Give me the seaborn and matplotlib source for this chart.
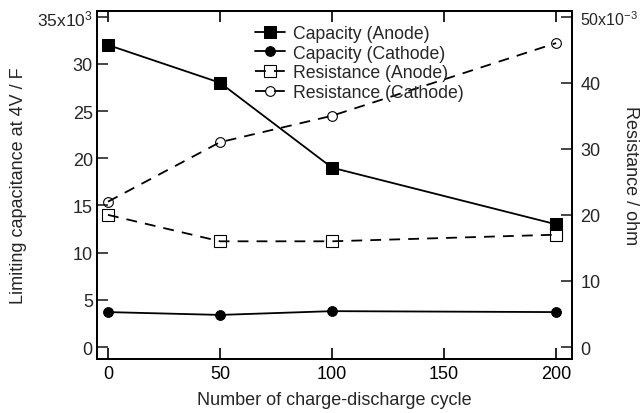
import matplotlib
matplotlib.use("Agg")
import matplotlib.pyplot as plt
import seaborn as sns
import pandas as pd
from matplotlib.ticker import FixedLocator, FixedFormatter

cycles = [0, 50, 100, 200]
cap_anode = [32.0, 28.0, 19.0, 13.0]          # x10^3 F
cap_cathode = [3.7, 3.4, 3.8, 3.7]            # x10^3 F
res_anode = [20.0, 16.0, 16.0, 17.0]          # x10^-3 ohm
res_cathode = [22.0, 31.0, 35.0, 46.0]        # x10^-3 ohm

left_ticks = [0, 5, 10, 15, 20, 25, 30, 35]
left_labels = ["0", "5", "10", "15", "20", "25", "30", "35x10$^3$"]
right_ticks = [0, 10, 20, 30, 40, 50]
right_labels = ["0", "10", "20", "30", "40", "50x10$^{-3}$"]
x_ticks = [0, 50, 100, 150, 200]

sns.set_style("ticks")
plt.rcParams["font.family"] = ["Liberation Sans", "DejaVu Sans"]
plt.rcParams["mathtext.fontset"] = "custom"
plt.rcParams["mathtext.rm"] = "Liberation Sans"
plt.rcParams["mathtext.it"] = "Liberation Sans"
FS = 13
plt.rcParams["font.size"] = FS

df = pd.DataFrame({"cycle": cycles, "cap_a": cap_anode, "cap_c": cap_cathode,
                   "res_a": res_anode, "res_c": res_cathode})

fig = plt.figure(figsize=(6.4, 4.14), dpi=100)
ax = fig.add_axes([97/640, 1-360/414, (572-97)/640, (360-12)/414])
ax2 = ax.twinx()

dash = (0, (6, 4.5))
sns.lineplot(data=df, x="cycle", y="cap_a", ax=ax, color="black", lw=1.3,
             marker="s", markersize=8.5, markeredgecolor="black", label="Capacity (Anode)", legend=False)
sns.lineplot(data=df, x="cycle", y="cap_c", ax=ax, color="black", lw=1.3,
             marker="o", markersize=7, markeredgecolor="black", label="Capacity (Cathode)", legend=False)
sns.lineplot(data=df, x="cycle", y="res_a", ax=ax2, color="black", lw=1.3, linestyle=dash,
             marker="s", markersize=8, markerfacecolor="none", markeredgecolor="black",
             markeredgewidth=0.8, label="Resistance (Anode)", legend=False)
sns.lineplot(data=df, x="cycle", y="res_c", ax=ax2, color="black", lw=1.3, linestyle=dash,
             marker="o", markersize=7, markerfacecolor="none", markeredgecolor="black",
             markeredgewidth=0.8, label="Resistance (Cathode)", legend=False)

ax.set_xlim(-4.9, 207.1)
ax.set_ylim(-1.27, 35.6)
ax2.set_ylim(-1.27 * 50 / 35, 35.6 * 50 / 35)

ax.xaxis.set_major_locator(FixedLocator(x_ticks))
ax.set_xticklabels([str(v) for v in x_ticks])
ax.yaxis.set_major_locator(FixedLocator(left_ticks))
ax.yaxis.set_major_formatter(FixedFormatter(left_labels))
ax2.yaxis.set_major_locator(FixedLocator(right_ticks))
ax2.yaxis.set_major_formatter(FixedFormatter(right_labels))

ax.tick_params(axis="x", direction="in", length=8, width=1.2, top=True, labelsize=FS, pad=4.5, colors="black")
ax.tick_params(axis="y", direction="in", length=8, width=1.2, labelsize=FS, pad=3)
ax2.tick_params(axis="y", direction="in", length=8, width=1.2, labelsize=FS, pad=6)

fig.canvas.draw()
ax.get_yticklabels()[-1].set_fontsize(12.5)
ax2.get_yticklabels()[-1].set_fontsize(11.5)

for a in (ax, ax2):
    for s in a.spines.values():
        s.set_linewidth(1.3)
        s.set_color("black")

ax.set_xlabel("Number of charge-discharge cycle", fontsize=FS, labelpad=6)
ax.set_ylabel("Limiting capacitance at 4V / F", fontsize=FS)
ax.yaxis.set_label_coords(-70/475, 0.5)
ax2.set_ylabel("Resistance / ohm", fontsize=FS, rotation=270, va="bottom")
ax2.yaxis.set_label_coords((622 - 97)/475, (360 - 176)/348)

h1, l1 = ax.get_legend_handles_labels()
h2, l2 = ax2.get_legend_handles_labels()
leg = ax2.legend(h1 + h2, l1 + l2, loc="upper left", bbox_to_anchor=(255/640, 1 - 26/414),
                 bbox_transform=fig.transFigure, frameon=False, fontsize=12.7,
                 handlelength=1.7, handletextpad=0.45, labelspacing=0.15, borderpad=0,
                 borderaxespad=0)

fig.savefig("out.png", dpi=100)
